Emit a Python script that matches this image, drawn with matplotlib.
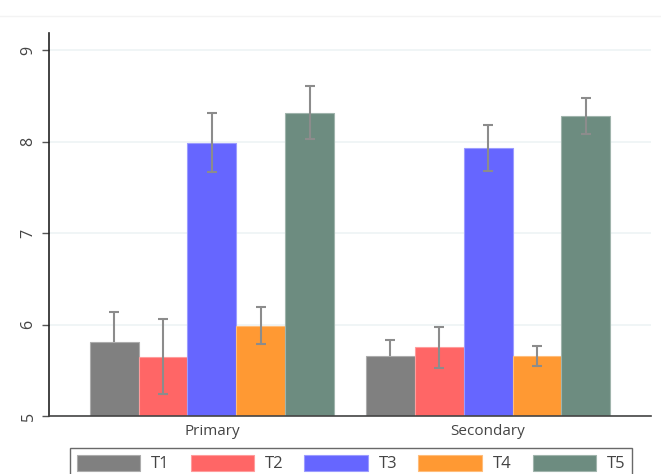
import matplotlib
matplotlib.use("Agg")
import matplotlib.pyplot as plt
import matplotlib.colors as mcolors
import numpy as np

plt.rcParams['font.family'] = ['Open Sans', 'DejaVu Sans']

groups = ["Primary", "Secondary"]
series = ["T1", "T2", "T3", "T4", "T5"]
means = {
    "T1": [5.81, 5.66],
    "T2": [5.65, 5.75],
    "T3": [7.99, 7.93],
    "T4": [5.99, 5.66],
    "T5": [8.32, 8.28],
}
errors = {
    "T1": [0.33, 0.17],
    "T2": [0.41, 0.22],
    "T3": [0.32, 0.25],
    "T4": [0.20, 0.11],
    "T5": [0.29, 0.20],
}
colors = ["#808080", "#FF6666", "#6666FF", "#FF9933", "#6D8C80"]
yticks = [5, 6, 7, 8, 9]


def lighten(c, f=0.35):
    r, g, b = mcolors.to_rgb(c)
    return (r + (1 - r) * f, g + (1 - g) * f, b + (1 - b) * f)


fig = plt.figure(figsize=(6.61, 4.74), dpi=100)
W, H = 661, 474
ax = fig.add_axes([49 / W, 1 - 416 / H, (651 - 49) / W, (416 - 33) / H])

fig.add_artist(plt.Line2D([0, 1], [1 - 16 / H, 1 - 16 / H], transform=fig.transFigure,
                          color="#F3F3F3", lw=1))

x = np.arange(len(groups))
bw = 0.177
for i, (s, c) in enumerate(zip(series, colors)):
    pos = x + (i - 2) * bw
    ax.bar(pos, np.array(means[s]) - 5, bottom=5, width=bw, color=c,
           edgecolor=lighten(c), linewidth=0.8, label=s, zorder=2)
    ax.errorbar(pos, means[s], yerr=errors[s], fmt="none", ecolor="#8C8C8C",
                elinewidth=1.5, capsize=3.5, capthick=1.5,
                zorder=1.5 if s == "T1" else 3)

ax.set_xlim(-0.59, 1.59)
ax.set_ylim(5, 9.19)
ax.set_yticks(yticks)
ax.set_yticklabels([str(v) for v in yticks], rotation=90, va="center",
                   fontsize=11.5, color="#444444")
ax.set_xticks(x)
ax.set_xticklabels(groups, fontsize=11, color="#444444")
ax.tick_params(axis="x", length=0, pad=6)
ax.tick_params(axis="y", length=5, color="#555555", width=1, pad=4)
ax.grid(axis="y", color="#EDF3F5", linewidth=1.2, zorder=0)
ax.set_axisbelow(True)
for sp in ["top", "right"]:
    ax.spines[sp].set_visible(False)
ax.spines["left"].set_color("#222222")
ax.spines["bottom"].set_color("#444444")
ax.spines["left"].set_linewidth(1.2)
ax.spines["bottom"].set_linewidth(1.2)

leg = fig.legend(loc="upper center", bbox_to_anchor=(351 / W, 1 - 448 / H), ncol=5,
                 fontsize=12, handlelength=3.8, handleheight=1.1, handletextpad=0.65,
                 columnspacing=1.27, frameon=True, fancybox=False, borderpad=0.4,
                 borderaxespad=0, edgecolor="#444444")
leg.get_frame().set_linewidth(1.0)
for t in leg.get_texts():
    t.set_color("#444444")
for p, c in zip(leg.get_patches(), colors):
    p.set_edgecolor(lighten(c))

fig.savefig("out.png", dpi=100)
